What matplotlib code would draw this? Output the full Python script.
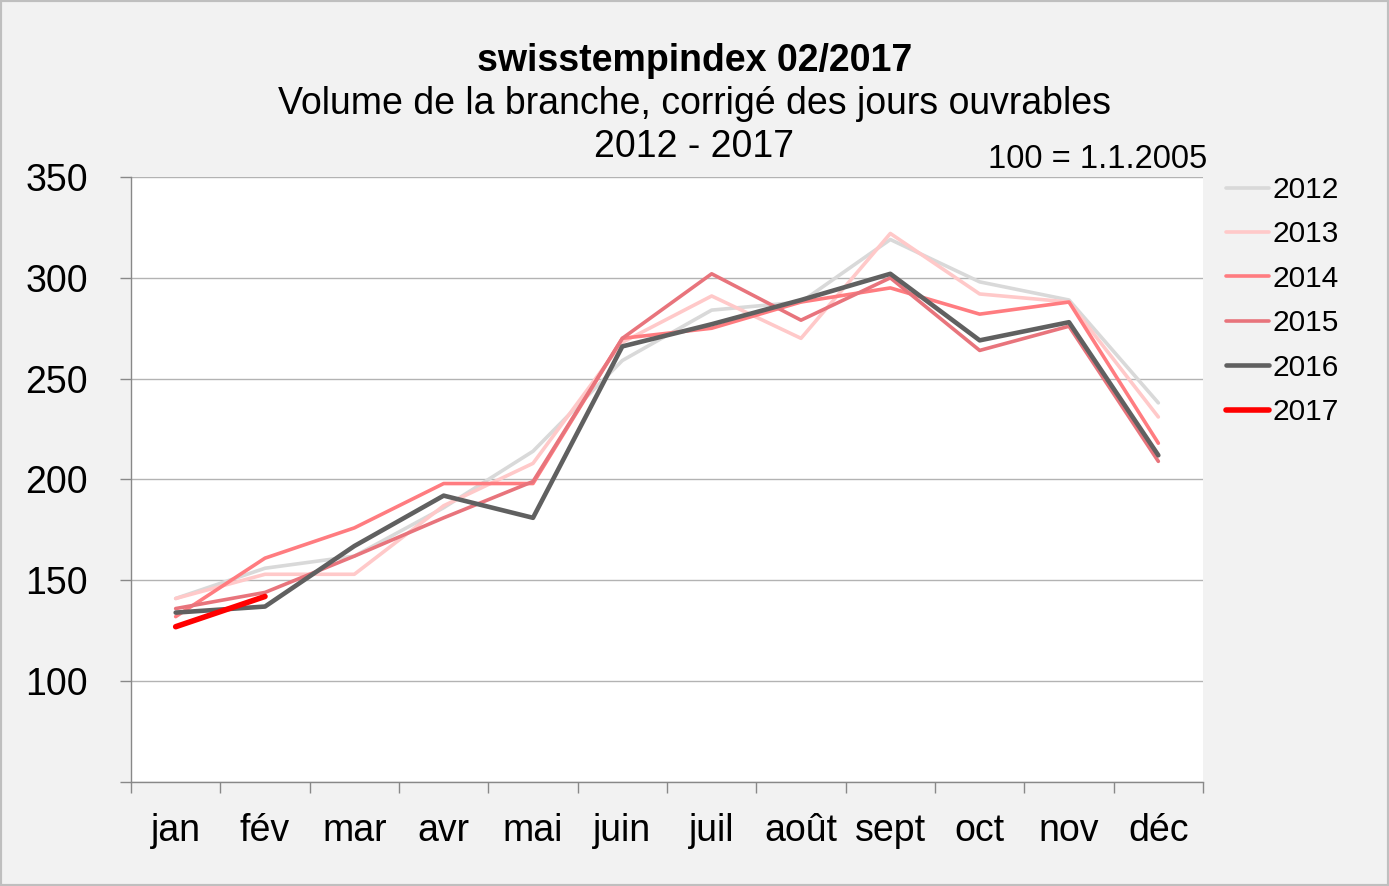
"""
swisstempindex 02/2017 - volume de la branche, courbes mensuelles 2012-2017.
"""

import matplotlib

matplotlib.use("Agg")
import matplotlib.pyplot as plt
from matplotlib.patches import Rectangle

plt.rcParams["font.family"] = ["Liberation Sans", "DejaVu Sans"]

months = ["jan", "fév", "mar", "avr", "mai", "juin", "juil", "août", "sept", "oct", "nov", "déc"]
years = ["2012", "2013", "2014", "2015", "2016", "2017"]

v2012 = [141, 156, 162, 186, 214, 259, 284, 288, 319, 298, 289, 238]
v2013 = [141, 153, 153, 187, 208, 268, 291, 270, 322, 292, 288, 231]
v2014 = [132, 161, 176, 198, 198, 270, 275, 288, 295, 282, 288, 218]
v2015 = [136, 144, 162, 181, 199, 270, 302, 279, 300, 264, 276, 209]
v2016 = [134, 137, 167, 192, 181, 266, 277, 289, 302, 269, 278, 212]
v2017 = [127, 142]

series = [v2012, v2013, v2014, v2015, v2016, v2017]
colors = ["#D9D9D9", "#FFC9C9", "#FF7C80", "#E8747C", "#606060", "#FF0000"]
widths = [2.6, 2.6, 2.6, 2.6, 3.3, 4.0]

fig = plt.figure(figsize=(13.89, 8.86), dpi=100, facecolor="#F2F2F2")
ax = fig.add_axes([131 / 1389, 1 - 782 / 886, (1203 - 131) / 1389, (782 - 177) / 886])
ax.set_facecolor("white")

x = list(range(len(months)))
for yr, vals, c, lw in zip(years, series, colors, widths):
    ax.plot(x[: len(vals)], vals, color=c, lw=lw, label=yr, solid_capstyle="round")

ax.set_xlim(-0.5, 11.5)
ax.set_ylim(50, 350)
ax.set_yticks([50, 100, 150, 200, 250, 300, 350])
ax.set_yticklabels(["", "100", "150", "200", "250", "300", "350"])
ax.set_xticks(x)
ax.set_xticklabels(months)
ax.set_xticks([i - 0.5 for i in range(13)], minor=True)
ax.tick_params(axis="x", which="major", length=0, pad=22, labelsize=27)
ax.tick_params(axis="x", which="minor", length=8, color="#888888", width=1)
ax.tick_params(axis="y", length=8, color="#888888", width=1, pad=23, labelsize=27)
ax.grid(axis="y", color="#B3B3B3", lw=1)
ax.set_axisbelow(True)
for s in ["top", "right"]:
    ax.spines[s].set_visible(False)
for s in ["left", "bottom"]:
    ax.spines[s].set_color("#888888")
    ax.spines[s].set_linewidth(1)

fig.text(0.5, 1 - 61 / 886, "swisstempindex 02/2017", ha="center", va="center",
         fontsize=27, fontweight="bold")
fig.text(0.5, 1 - 104 / 886, "Volume de la branche, corrigé des jours ouvrables",
         ha="center", va="center", fontsize=27)
fig.text(0.5, 1 - 147 / 886, "2012 - 2017", ha="center", va="center", fontsize=27)
fig.text(1207 / 1389, 1 - 160 / 886, "100 = 1.1.2005", ha="right", va="center", fontsize=23.5)

fig.legend(loc="upper left", bbox_to_anchor=(1226 / 1389, 1 - 176 / 886), frameon=False,
           fontsize=21.5, handlelength=1.45, handletextpad=0.1, labelspacing=0.55,
           borderpad=0, borderaxespad=0)

fig.patches.append(Rectangle((0, 0), 1, 1, transform=fig.transFigure, fill=False,
                             edgecolor="#BFBFBF", lw=3))

fig.savefig("out.png", dpi=100, facecolor=fig.get_facecolor())
